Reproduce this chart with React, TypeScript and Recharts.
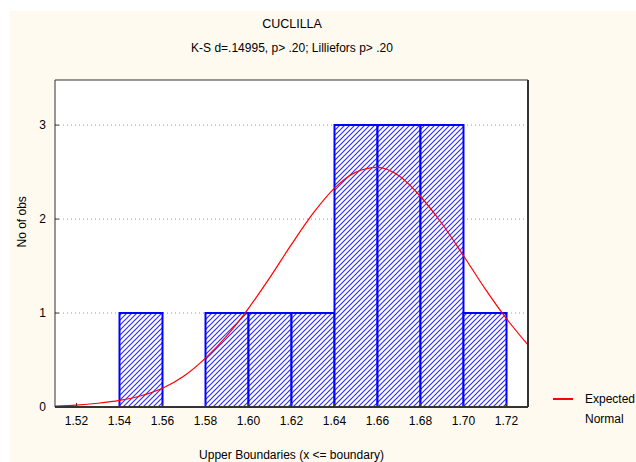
import React from 'react';
import {
  ComposedChart,
  Line,
  XAxis,
  YAxis,
  CartesianGrid,
  ReferenceArea,
  ReferenceLine,
  Legend,
} from 'recharts';

// Histogram bins (upper boundaries) and counts
const binLower = [1.52, 1.54, 1.56, 1.58, 1.6, 1.62, 1.64, 1.66, 1.68, 1.7];
const binUpper = [1.54, 1.56, 1.58, 1.6, 1.62, 1.64, 1.66, 1.68, 1.7, 1.72];
const binCounts = [0, 1, 0, 1, 1, 1, 3, 3, 3, 1];

// Expected normal curve
const curveX = [
  1.51, 1.52, 1.53, 1.54, 1.55, 1.56, 1.57, 1.58, 1.59, 1.6, 1.61, 1.62,
  1.63, 1.64, 1.65, 1.66, 1.67, 1.68, 1.69, 1.7, 1.71, 1.72, 1.73,
];
const curveY = [
  0.01, 0.02, 0.04, 0.07, 0.12, 0.2, 0.33, 0.52, 0.76, 1.05, 1.38, 1.73,
  2.06, 2.33, 2.5, 2.55, 2.46, 2.24, 1.95, 1.61, 1.26, 0.94, 0.66,
];

const xTicks = [1.52, 1.54, 1.56, 1.58, 1.6, 1.62, 1.64, 1.66, 1.68, 1.7, 1.72];
const yTicks = [0, 1, 2, 3];

const curveData = curveX.map((x, i) => ({ x, expected: curveY[i] }));

const FONT = '"Liberation Sans", Arial, sans-serif';
const BORDER = '#333333';

const LegendContent = () => (
  <div style={{ display: 'flex', alignItems: 'flex-start', fontFamily: FONT, fontSize: 12, color: '#000' }}>
    <div style={{ width: 20, height: 2, background: '#ff0000', marginTop: 9, marginRight: 12 }} />
    <div style={{ width: 56, lineHeight: '20px' }}>Expected Normal</div>
  </div>
);

export default function App() {
  return (
    <div
      style={{
        position: 'absolute',
        left: 0,
        top: 0,
        width: 636,
        height: 462,
        overflow: 'hidden',
        background: '#ffffff',
        fontFamily: FONT,
      }}
    >
      <div
        style={{
          position: 'absolute',
          left: 10,
          top: 11,
          width: 626,
          height: 451,
          background: '#FFFAF0',
        }}
      />
      <div
        style={{
          position: 'absolute',
          left: 0,
          top: 17,
          width: 584,
          textAlign: 'center',
          fontSize: 12.5,
          color: '#000',
        }}
      >
        CUCLILLA
      </div>
      <div
        style={{
          position: 'absolute',
          left: 0,
          top: 41,
          width: 584,
          textAlign: 'center',
          fontSize: 12,
          color: '#000',
        }}
      >
        K-S d=.14995, p&gt; .20; Lilliefors p&gt; .20
      </div>
      <div style={{ position: 'absolute', left: 0, top: 0 }}>
        <ComposedChart
          width={636}
          height={462}
          data={curveData}
          margin={{ top: 79, right: 107, bottom: 25, left: 10 }}
        >
          <defs>
            <pattern id="hatch" patternUnits="userSpaceOnUse" width="5" height="5">
              <rect x="0" y="0" width="5" height="5" fill="#ffffff" />
              <path d="M-1,1 l2,-2 M0,5 l5,-5 M4,6 l2,-2" stroke="#3030ff" strokeWidth="1.2" />
            </pattern>
          </defs>
          <CartesianGrid
            vertical={false}
            horizontalValues={[1, 2, 3]}
            stroke="#9a9a9a"
            strokeDasharray="1 3"
            fill="#ffffff"
          />
          <XAxis
            dataKey="x"
            type="number"
            domain={[1.51, 1.73]}
            ticks={xTicks}
            tickFormatter={(v: number) => v.toFixed(2)}
            allowDataOverflow
            height={30}
            tickSize={-4}
            tickMargin={13}
            axisLine={{ stroke: BORDER, strokeWidth: 2 }}
            tickLine={{ stroke: BORDER }}
            tick={{ fill: '#000', fontSize: 12, fontFamily: FONT }}
            label={{
              value: 'Upper Boundaries (x <= boundary)',
              position: 'bottom',
              offset: 13,
              fill: '#000',
              fontSize: 12,
              fontFamily: FONT,
            }}
          />
          <XAxis
            xAxisId="top"
            orientation="top"
            dataKey="x"
            type="number"
            domain={[1.51, 1.73]}
            ticks={xTicks}
            allowDataOverflow
            height={1}
            tickSize={-4}
            tick={false}
            axisLine={{ stroke: BORDER }}
            tickLine={{ stroke: BORDER }}
          />
          <YAxis
            type="number"
            domain={[0, 3.48]}
            ticks={yTicks}
            allowDataOverflow
            width={45}
            tickSize={-4}
            tickMargin={13}
            axisLine={{ stroke: BORDER }}
            tickLine={{ stroke: BORDER }}
            tick={{ fill: '#000', fontSize: 12, fontFamily: FONT }}
            label={{
              value: 'No of obs',
              angle: -90,
              position: 'insideLeft',
              offset: 0,
              dx: 12,
              dy: 4,
              fill: '#000',
              fontSize: 12,
              fontFamily: FONT,
            }}
          />
          <YAxis
            yAxisId="right"
            orientation="right"
            type="number"
            domain={[0, 3.48]}
            ticks={yTicks}
            allowDataOverflow
            width={1}
            tickSize={-4}
            tick={false}
            axisLine={{ stroke: BORDER, strokeWidth: 2 }}
            tickLine={{ stroke: BORDER }}
          />
          {binCounts.map((c, i) =>
            c > 0 ? (
              <ReferenceArea
                key={`bin-${i}`}
                x1={binLower[i]}
                x2={binUpper[i]}
                y1={0}
                y2={c}
                fill="url(#hatch)"
                fillOpacity={1}
                stroke="#0000ff"
                strokeWidth={2}
                ifOverflow="visible"
              />
            ) : (
              <ReferenceLine
                key={`bin-${i}`}
                segment={[
                  { x: binLower[i], y: 0 },
                  { x: binUpper[i], y: 0 },
                ]}
                stroke="#0000ff"
                strokeWidth={2}
                ifOverflow="visible"
              />
            )
          )}
          <Line
            type="monotone"
            dataKey="expected"
            name="Expected Normal"
            stroke="#ff0000"
            strokeWidth={1.2}
            dot={false}
            activeDot={false}
            isAnimationActive={false}
          />
          <Legend
            layout="vertical"
            align="center"
            verticalAlign="middle"
            content={<LegendContent />}
            wrapperStyle={{ position: 'absolute', left: 553, top: 389, width: 100 }}
          />
        </ComposedChart>
      </div>
    </div>
  );
}
